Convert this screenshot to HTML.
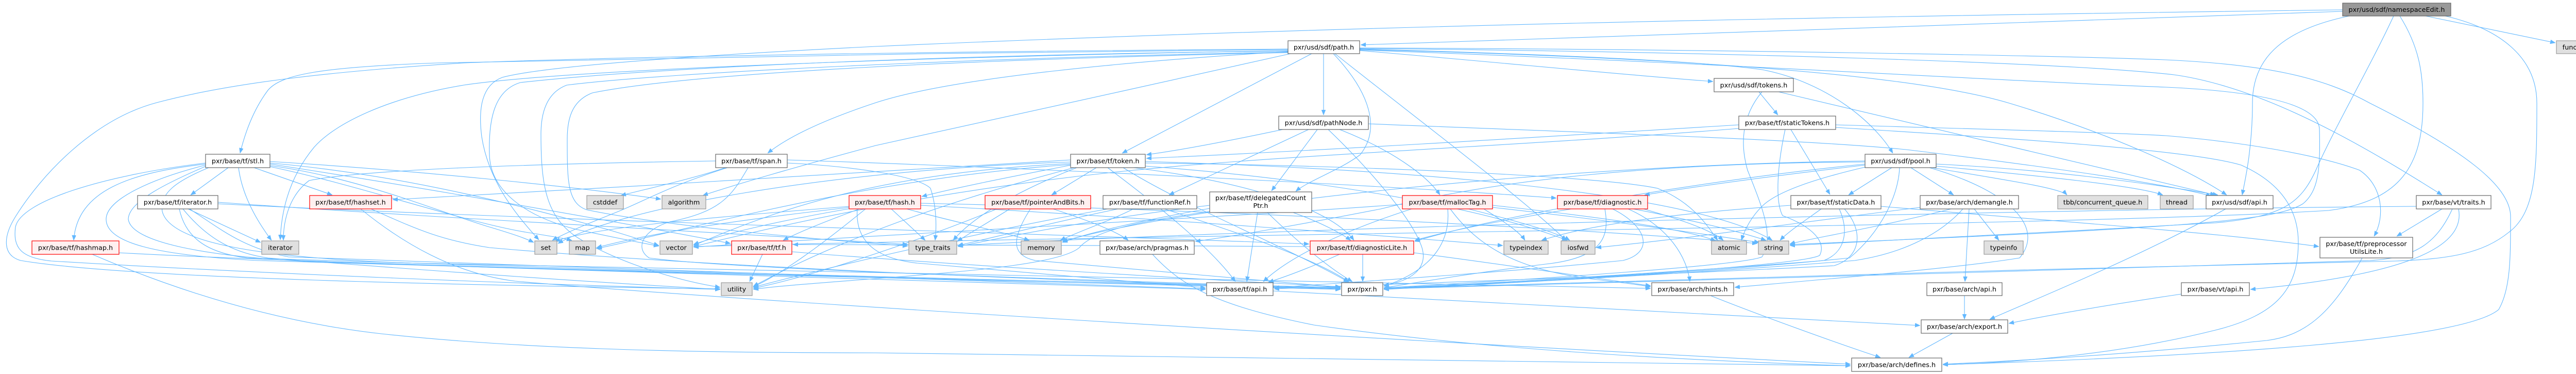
<!DOCTYPE html>
<html>
<head>
<meta charset="utf-8">
<style>
html,body{margin:0;padding:0;background:#fff;}
svg{display:block;}
.e path{fill:none;stroke:#63b8ff;stroke-width:1.1;}
text{font-family:"DejaVu Sans","Liberation Sans",sans-serif;font-size:12.8px;fill:#000;text-anchor:middle;}
.n{fill:#fff;stroke:#666;stroke-width:1.2;}
.g{fill:#e0e0e0;stroke:#999;stroke-width:1.2;}
.r{fill:#fff0f0;stroke:#ff0000;stroke-width:1.2;}
.root{fill:#999;stroke:#666;stroke-width:1.2;}
</style>
</head>
<body>
<svg width="5054" height="725" viewBox="0 0 5054 725" xmlns="http://www.w3.org/2000/svg">
<defs>
<marker id="a" viewBox="0 0 10 8" refX="10" refY="4" markerWidth="10" markerHeight="8" markerUnits="userSpaceOnUse" orient="auto"><path d="M0,0L10,4L0,8z" fill="#63b8ff" stroke="#63b8ff" stroke-width="0.5"/></marker>
</defs>
<rect width="5054" height="725" fill="#fff"/>
<g class="e">
<!-- namespaceEdit -->
<path d="M4547,22 C4000,40 3200,70 2641,87" marker-end="url(#a)"/>
<path d="M4547,19 C3500,33 2600,50 1700,90 C1300,110 1050,130 975,150 C935,165 928,210 935,265 C948,350 1000,415 1046,465" marker-end="url(#a)"/>
<path d="M4560,31 C4420,60 4372,120 4372,200 C4372,280 4360,340 4352,378" marker-end="url(#a)"/>
<path d="M4646,31 C4600,130 4530,250 4495,330 C4465,395 4430,420 4300,432 C4000,450 3600,468 3474,476" marker-end="url(#a)"/>
<path d="M4658,31 C4695,90 4703,140 4703,200 C4703,320 4660,390 4520,408 C4000,440 2200,455 1346,478" marker-end="url(#a)"/>
<path d="M4746,31 C4850,55 4924,110 4924,200 C4924,320 4924,410 4870,450 C4820,490 4760,502 4650,506 C4000,520 3100,545 2686,559" marker-end="url(#a)"/>
<path d="M4708,31 L4960,83" marker-end="url(#a)"/>
<!-- path.h -->
<path d="M2500,95 C1800,100 1200,110 900,122 C650,138 450,160 304,199 C180,232 80,340 30,420 C5,460 5,495 40,505 C250,540 900,553 1398,560" marker-end="url(#a)"/>
<path d="M2569,104 L2569,223" marker-end="url(#a)"/>
<path d="M2546,104 L2178,297" marker-end="url(#a)"/>
<path d="M2500,100 C2200,118 1850,150 1700,199 C1600,232 1530,265 1490,297" marker-end="url(#a)"/>
<path d="M2505,104 C2250,160 1900,240 1700,282 C1550,322 1420,360 1364,379" marker-end="url(#a)"/>
<path d="M2500,96 C2000,100 1200,112 850,122 C620,130 545,145 520,175 C490,215 475,260 466,297" marker-end="url(#a)"/>
<path d="M2500,98 C1800,110 1100,135 900,165 C750,190 650,240 610,285 C560,345 546,410 544,465" marker-end="url(#a)"/>
<path d="M2500,99 C1900,105 1300,128 1010,160 C960,175 948,230 950,300 C952,370 1020,420 1120,445 C1200,462 1250,472 1279,477" marker-end="url(#a)"/>
<path d="M2500,101 C1900,112 1300,140 1100,165 C1060,180 1050,220 1050,260 C1050,360 1060,420 1120,460 C1200,510 1320,545 1398,557" marker-end="url(#a)"/>
<path d="M2500,102 C1900,115 1350,140 1150,180 C1110,195 1101,230 1101,270 C1101,350 1101,395 1140,407 C1300,440 1600,465 1762,477" marker-end="url(#a)"/>
<path d="M2591,104 C2750,230 2950,380 3040,466" marker-end="url(#a)"/>
<path d="M2588,104 C2660,180 2680,250 2640,300 C2600,330 2540,350 2515,371" marker-end="url(#a)"/>
<path d="M2639,98 C2900,120 3150,145 3325,158" marker-end="url(#a)"/>
<path d="M2639,95 C3000,105 3300,118 3420,135 C3550,160 3640,240 3674,297" marker-end="url(#a)"/>
<path d="M2639,96 C3200,110 3700,140 3900,200 C4100,260 4250,330 4322,378" marker-end="url(#a)"/>
<path d="M2639,94 C3300,100 4000,120 4220,145 C4400,170 4600,290 4740,378" marker-end="url(#a)"/>
<path d="M2639,93 C3300,95 4000,108 4204,116 C4400,125 4510,150 4600,200 C4780,290 4873,360 4873,420 C4873,500 4873,560 4850,600 C4780,660 4300,690 3771,707" marker-end="url(#a)"/>
<path d="M2639,97 C3300,120 3900,158 4204,169 C4400,178 4500,205 4502,250 C4504,330 4500,370 4470,395 C4420,425 4300,440 3474,474" marker-end="url(#a)"/>
<!-- tokens.h -->
<path d="M3414,178 L3451,223" marker-end="url(#a)"/>
<path d="M3452,178 C3800,260 4100,330 4300,378" marker-end="url(#a)"/>
<path d="M3420,178 C3385,220 3375,270 3392,330 C3420,400 3445,460 3420,498 C3380,515 3000,540 2686,558" marker-end="url(#a)"/>
<!-- staticTokens -->
<path d="M3476,251 L3552,377" marker-end="url(#a)"/>
<path d="M3375,242 C3000,265 2600,290 2225,307" marker-end="url(#a)"/>
<path d="M3563,242 C3900,252 4100,257 4204,263 C4350,275 4500,300 4580,330 C4625,360 4630,420 4608,458" marker-end="url(#a)"/>
<path d="M3465,251 C3450,320 3445,390 3460,418 C3520,440 3545,470 3532,495 C3500,515 3000,545 2686,560" marker-end="url(#a)"/>
<path d="M3375,249 C3000,280 2500,300 2200,330 C1800,370 1500,440 1346,478" marker-end="url(#a)"/>
<path d="M3563,247 C3900,268 4250,290 4350,320 C4440,360 4461,420 4461,470 C4461,560 4420,610 4300,640 C4100,690 3900,703 3771,707" marker-end="url(#a)"/>
<!-- pathNode -->
<path d="M2490,251 C2400,270 2300,290 2225,300" marker-end="url(#a)"/>
<path d="M2540,251 L2269,378" marker-end="url(#a)"/>
<path d="M2557,251 L2468,370" marker-end="url(#a)"/>
<path d="M2578,251 C2650,320 2740,420 2760,480 C2772,520 2740,545 2686,553" marker-end="url(#a)"/>
<path d="M2600,251 C2700,290 2770,340 2795,378" marker-end="url(#a)"/>
<path d="M2656,240 C3100,258 3500,270 3700,290 C3950,320 4200,355 4292,380" marker-end="url(#a)"/>
<!-- stl.h -->
<path d="M399,318 C250,335 150,370 143,466" marker-end="url(#a)"/>
<path d="M443,325 L370,378" marker-end="url(#a)"/>
<path d="M463,325 C470,380 500,430 527,466" marker-end="url(#a)"/>
<path d="M493,325 L645,378" marker-end="url(#a)"/>
<path d="M524,313 C800,330 1100,360 1283,386" marker-end="url(#a)"/>
<path d="M524,318 C800,360 1200,430 1418,472" marker-end="url(#a)"/>
<path d="M524,321 C700,345 850,410 950,440 C1000,455 1020,462 1036,470" marker-end="url(#a)"/>
<path d="M524,323 C700,360 900,430 1020,450 C1070,458 1095,462 1110,466" marker-end="url(#a)"/>
<path d="M524,316 C800,340 1050,410 1180,445 C1230,460 1260,470 1279,476" marker-end="url(#a)"/>
<path d="M399,316 C200,340 40,390 30,440 C25,480 40,500 100,506 C500,530 1000,550 1398,561" marker-end="url(#a)"/>
<path d="M399,320 C300,345 206,385 206,425 C206,470 300,495 500,505 C1200,528 2200,550 2602,561" marker-end="url(#a)"/>
<path d="M400,322 C330,352 249,390 249,425 C255,470 400,497 600,507 C1200,527 2000,550 2340,561" marker-end="url(#a)"/>
<path d="M405,325 C340,352 310,375 315,410 C330,470 500,500 800,510 C1800,530 2800,548 3204,559" marker-end="url(#a)"/>
<!-- iterator.h -->
<path d="M365,405 L506,470" marker-end="url(#a)"/>
<path d="M423,392 C800,420 1400,450 1762,474" marker-end="url(#a)"/>
<path d="M423,395 C1000,425 2000,452 2541,473" marker-end="url(#a)"/>
<path d="M348,405 C360,460 400,490 480,500 C1200,525 2200,550 2602,560" marker-end="url(#a)"/>
<path d="M355,405 C400,460 450,490 520,500 C900,530 1200,550 1398,561" marker-end="url(#a)"/>
<path d="M368,405 C430,445 470,480 560,498 C1300,525 2000,548 2340,560" marker-end="url(#a)"/>
<!-- hashset / hashmap -->
<path d="M720,405 C800,440 850,465 950,480 C1400,520 2200,550 2602,559" marker-end="url(#a)"/>
<path d="M700,405 C780,470 880,530 1000,545 C1400,580 2600,655 3592,706" marker-end="url(#a)"/>
<path d="M231,490 C600,510 1500,535 2602,557" marker-end="url(#a)"/>
<path d="M179,493 C300,545 500,620 740,647 C1000,675 1300,684 1700,684 C2500,690 3200,703 3592,709" marker-end="url(#a)"/>
<!-- span.h -->
<path d="M1389,312 C1000,318 700,330 600,350 C560,380 550,430 550,466" marker-end="url(#a)"/>
<path d="M1408,325 C1350,345 1260,365 1205,379" marker-end="url(#a)"/>
<path d="M1412,325 C1300,360 1250,390 1200,410 C1150,430 1100,450 1072,466" marker-end="url(#a)"/>
<path d="M1452,325 C1420,380 1400,410 1300,430 C1250,445 1230,480 1260,500 C1400,520 2000,540 2602,558" marker-end="url(#a)"/>
<path d="M1528,310 C2000,325 2700,360 3021,384" marker-end="url(#a)"/>
<path d="M1528,316 C1650,322 1780,340 1806,365 C1818,400 1818,440 1815,466" marker-end="url(#a)"/>
<!-- hash.h -->
<path d="M1650,400 C1400,420 1150,440 1077,468" marker-end="url(#a)"/>
<path d="M1650,402 C1400,430 1250,455 1158,480" marker-end="url(#a)"/>
<path d="M1652,404 C1500,430 1400,455 1346,474" marker-end="url(#a)"/>
<path d="M1668,405 C1600,430 1550,450 1520,466" marker-end="url(#a)"/>
<path d="M1680,405 C1600,470 1520,530 1462,556" marker-end="url(#a)"/>
<path d="M1730,405 L1796,466" marker-end="url(#a)"/>
<path d="M1760,405 C1850,430 1950,450 1998,466" marker-end="url(#a)"/>
<path d="M1664,405 C1660,460 1690,500 1780,510 C2000,530 2200,545 2340,558" marker-end="url(#a)"/>
<path d="M1787,398 C2200,420 2700,458 2917,476" marker-end="url(#a)"/>
<path d="M1787,394 C2300,405 3000,438 3411,472" marker-end="url(#a)"/>
<!-- pointerAndBits -->
<path d="M1960,405 C1920,430 1885,450 1858,468" marker-end="url(#a)"/>
<path d="M2044,405 C2120,430 2170,450 2190,466" marker-end="url(#a)"/>
<path d="M2000,405 C1965,460 1960,495 2010,505 C2300,530 2500,548 2602,557" marker-end="url(#a)"/>
<path d="M1935,405 C1800,460 1600,530 1462,559" marker-end="url(#a)"/>
<!-- functionRef -->
<path d="M2170,405 C2050,430 1950,455 1859,476" marker-end="url(#a)"/>
<path d="M2200,405 C2150,430 2090,450 2058,466" marker-end="url(#a)"/>
<path d="M2260,405 C2400,450 2550,500 2618,546" marker-end="url(#a)"/>
<path d="M2150,405 C1900,450 1600,520 1462,557" marker-end="url(#a)"/>
<!-- delegatedCountPtr -->
<path d="M2348,398 C2100,428 1950,460 1859,478" marker-end="url(#a)"/>
<path d="M2348,404 C2200,430 2100,455 2062,470" marker-end="url(#a)"/>
<path d="M2348,410 C2200,430 2120,450 2095,480 C2060,510 1900,525 1700,540 C1600,548 1500,555 1462,561" marker-end="url(#a)"/>
<path d="M2441,412 L2420,546" marker-end="url(#a)"/>
<path d="M2460,412 C2520,470 2580,520 2625,546" marker-end="url(#a)"/>
<path d="M2510,412 C2560,430 2600,450 2622,466" marker-end="url(#a)"/>
<!-- token.h -->
<path d="M2128,325 L2041,378" marker-end="url(#a)"/>
<path d="M2079,320 C1950,345 1850,365 1789,381" marker-end="url(#a)"/>
<path d="M2078,310 C1800,325 1200,365 762,387" marker-end="url(#a)"/>
<path d="M2090,325 C1950,380 1880,430 1850,466" marker-end="url(#a)"/>
<path d="M2200,325 C2400,350 2580,400 2628,466" marker-end="url(#a)"/>
<path d="M2223,316 C2600,320 3100,340 3217,365 C3280,390 3310,430 3334,466" marker-end="url(#a)"/>
<path d="M2223,322 C2600,350 2900,410 3042,466" marker-end="url(#a)"/>
<path d="M2223,313 C2800,330 3300,380 3440,466" marker-end="url(#a)"/>
<path d="M2078,317 C1700,335 1500,410 1346,476" marker-end="url(#a)"/>
<path d="M2078,314 C1600,330 1200,405 1083,472" marker-end="url(#a)"/>
<path d="M2078,319 C1700,345 1400,430 1158,482" marker-end="url(#a)"/>
<path d="M2085,325 C1800,400 1600,480 1462,555" marker-end="url(#a)"/>
<path d="M2180,325 C2300,400 2500,480 2618,547" marker-end="url(#a)"/>
<path d="M2150,325 C2250,400 2350,480 2398,546" marker-end="url(#a)"/>
<!-- mallocTag -->
<path d="M2740,405 C2600,450 2500,500 2452,546" marker-end="url(#a)"/>
<path d="M2810,405 C2815,460 2790,520 2686,555" marker-end="url(#a)"/>
<path d="M2815,405 C2870,480 2950,525 3100,542 C3150,548 3180,552 3204,556" marker-end="url(#a)"/>
<path d="M2850,405 C2950,430 3020,450 3047,466" marker-end="url(#a)"/>
<path d="M2897,398 C3100,420 3280,445 3330,467" marker-end="url(#a)"/>
<path d="M2897,402 C3150,430 3350,460 3415,470" marker-end="url(#a)"/>
<path d="M2722,396 C2400,420 1800,450 1346,479" marker-end="url(#a)"/>
<path d="M2880,405 C2920,430 2950,450 2960,466" marker-end="url(#a)"/>
<!-- diagnostic -->
<path d="M3050,405 C2900,430 2800,450 2746,466" marker-end="url(#a)"/>
<path d="M3115,405 C3125,460 3110,500 3000,512 C2850,530 2750,548 2686,558" marker-end="url(#a)"/>
<path d="M3130,405 C3200,440 3210,490 3150,505 C2900,530 2600,548 2473,558" marker-end="url(#a)"/>
<path d="M3160,405 C3240,440 3275,500 3280,546" marker-end="url(#a)"/>
<path d="M3170,405 C3300,430 3380,450 3428,466" marker-end="url(#a)"/>
<path d="M3190,405 C3260,425 3320,445 3345,466" marker-end="url(#a)"/>
<!-- diagnosticLite -->
<path d="M2645,493 L2645,546" marker-end="url(#a)"/>
<path d="M2600,493 C2540,520 2500,535 2462,547" marker-end="url(#a)"/>
<path d="M2744,490 C2900,510 3100,540 3204,554" marker-end="url(#a)"/>
<path d="M2543,478 C2200,476 1800,474 1539,474" marker-end="url(#a)"/>
<!-- pragmas, tf.h -->
<path d="M2237,493 C2290,550 2350,590 2550,630 C2900,680 3300,700 3592,709" marker-end="url(#a)"/>
<path d="M1480,493 L1455,546" marker-end="url(#a)"/>
<path d="M1537,488 C1800,510 2300,540 2602,556" marker-end="url(#a)"/>
<!-- lower -->
<path d="M3320,573 C3400,605 3550,660 3650,693" marker-end="url(#a)"/>
<path d="M2471,564 C3000,590 3500,615 3727,631" marker-end="url(#a)"/>
<path d="M3813,573 L3813,619" marker-end="url(#a)"/>
<path d="M3790,646 L3705,693" marker-end="url(#a)"/>
<path d="M4320,405 C4150,500 3950,580 3862,619" marker-end="url(#a)"/>
<path d="M4234,570 C4100,590 3980,610 3899,627" marker-end="url(#a)"/>
<!-- demangle -->
<path d="M3822,405 L3814,546" marker-end="url(#a)"/>
<path d="M3832,405 L3880,466" marker-end="url(#a)"/>
<path d="M3787,405 C3650,440 3500,465 3474,473" marker-end="url(#a)"/>
<path d="M3810,405 C3770,450 3700,490 3600,505 C3300,530 2900,550 2686,561" marker-end="url(#a)"/>
<path d="M3727,402 C3500,430 3300,460 3098,480" marker-end="url(#a)"/>
<!-- staticData -->
<path d="M3535,405 C3500,430 3470,450 3455,466" marker-end="url(#a)"/>
<path d="M3570,405 C3590,450 3580,490 3540,505 C3300,525 2900,548 2686,560" marker-end="url(#a)"/>
<path d="M3580,405 C3620,450 3610,500 3560,515 C3200,535 2700,550 2473,560" marker-end="url(#a)"/>
<path d="M3651,400 C4000,430 4300,450 4501,478" marker-end="url(#a)"/>
<path d="M3476,398 C3300,410 3100,430 2992,466" marker-end="url(#a)"/>
<!-- pool -->
<path d="M3672,325 L3588,378" marker-end="url(#a)"/>
<path d="M3709,325 L3792,378" marker-end="url(#a)"/>
<path d="M3750,325 C3900,350 4000,365 4012,378" marker-end="url(#a)"/>
<path d="M3758,322 C3950,340 4150,360 4198,378" marker-end="url(#a)"/>
<path d="M3758,318 C4000,330 4200,360 4305,378" marker-end="url(#a)"/>
<path d="M3687,325 C3685,380 3650,450 3590,500 C3300,530 2900,550 2686,558" marker-end="url(#a)"/>
<path d="M3745,325 C3900,370 3970,440 3920,500 C3800,520 3500,545 3367,557" marker-end="url(#a)"/>
<path d="M3620,324 C3530,345 3450,370 3420,400 C3395,425 3385,450 3380,466" marker-end="url(#a)"/>
<path d="M3620,320 C3450,340 3300,360 3192,378" marker-end="url(#a)"/>
<path d="M3620,318 C3300,350 2900,420 2746,468" marker-end="url(#a)"/>
<path d="M3620,312 C3000,320 2300,400 2062,468" marker-end="url(#a)"/>
<path d="M3620,314 C3200,316 2900,350 2680,405 C2500,440 2380,460 2320,468" marker-end="url(#a)"/>
<!-- vt/traits -->
<path d="M4740,405 L4652,458" marker-end="url(#a)"/>
<path d="M4772,405 C4785,470 4700,530 4368,561" marker-end="url(#a)"/>
<path d="M4760,405 C4730,470 4690,500 4600,505 C4000,525 3000,550 2686,560" marker-end="url(#a)"/>
<path d="M4690,400 C4000,405 2500,440 1859,476" marker-end="url(#a)"/>
<!-- preprocessorUtilsLite -->
<path d="M4585,500 C4530,600 4480,650 4400,660 C4100,690 3900,700 3771,706" marker-end="url(#a)"/>
</g>

<!-- nodes -->
<g>
<rect class="root" x="4547" y="6" width="210" height="25"/><text x="4652" y="23">pxr/usd/sdf/namespaceEdit.h</text>
<rect class="n" x="2500" y="79" width="139" height="25"/><text x="2569.5" y="96">pxr/usd/sdf/path.h</text>
<rect class="g" x="4962" y="79" width="87" height="25"/><text x="5005.5" y="96">functional</text>
<rect class="n" x="3327" y="152" width="154" height="26"/><text x="3404" y="169.5">pxr/usd/sdf/tokens.h</text>
<rect class="n" x="2482" y="225" width="174" height="26"/><text x="2569" y="242.5">pxr/usd/sdf/pathNode.h</text>
<rect class="n" x="3375" y="225" width="188" height="26"/><text x="3469" y="242.5">pxr/base/tf/staticTokens.h</text>

<rect class="n" x="399" y="299" width="125" height="26"/><text x="461.5" y="316.5">pxr/base/tf/stl.h</text>
<rect class="n" x="1389" y="299" width="139" height="26"/><text x="1458.5" y="316.5">pxr/base/tf/span.h</text>
<rect class="n" x="2078" y="299" width="145" height="26"/><text x="2150.5" y="316.5">pxr/base/tf/token.h</text>
<rect class="n" x="3620" y="299" width="138" height="26"/><text x="3689" y="316.5">pxr/usd/sdf/pool.h</text>

<rect class="n" x="267" y="379" width="156" height="26"/><text x="345" y="396.5">pxr/base/tf/iterator.h</text>
<rect class="r" x="601" y="379" width="159" height="26"/><text x="680.5" y="396.5">pxr/base/tf/hashset.h</text>
<rect class="g" x="1139" y="379" width="71" height="26"/><text x="1174.5" y="396.5">cstddef</text>
<rect class="g" x="1285" y="379" width="85" height="26"/><text x="1327.5" y="396.5">algorithm</text>
<rect class="r" x="1648" y="379" width="139" height="26"/><text x="1717.5" y="396.5">pxr/base/tf/hash.h</text>
<rect class="r" x="1912" y="379" width="205" height="26"/><text x="2014.5" y="396.5">pxr/base/tf/pointerAndBits.h</text>
<rect class="n" x="2141" y="379" width="182" height="26"/><text x="2232" y="396.5">pxr/base/tf/functionRef.h</text>
<rect class="n" x="2348" y="372" width="198" height="40"/><text x="2447" y="388">pxr/base/tf/delegatedCount</text><text x="2447" y="403">Ptr.h</text>
<rect class="r" x="2722" y="379" width="175" height="26"/><text x="2809.5" y="396.5">pxr/base/tf/mallocTag.h</text>
<rect class="r" x="3023" y="379" width="175" height="26"/><text x="3110.5" y="396.5">pxr/base/tf/diagnostic.h</text>
<rect class="n" x="3476" y="379" width="175" height="26"/><text x="3563.5" y="396.5">pxr/base/tf/staticData.h</text>
<rect class="n" x="3727" y="379" width="191" height="26"/><text x="3822.5" y="396.5">pxr/base/arch/demangle.h</text>
<rect class="g" x="3994" y="379" width="175" height="26"/><text x="4081.5" y="396.5">tbb/concurrent_queue.h</text>
<rect class="g" x="4193" y="379" width="64" height="26"/><text x="4225" y="396.5">thread</text>
<rect class="n" x="4282" y="379" width="130" height="26"/><text x="4347" y="396.5">pxr/usd/sdf/api.h</text>
<rect class="n" x="4690" y="379" width="145" height="26"/><text x="4762.5" y="396.5">pxr/base/vt/traits.h</text>

<rect class="r" x="62" y="467" width="169" height="26"/><text x="146.5" y="484.5">pxr/base/tf/hashmap.h</text>
<rect class="g" x="508" y="467" width="72" height="26"/><text x="544" y="484.5">iterator</text>
<rect class="g" x="1038" y="467" width="43" height="26"/><text x="1059.5" y="484.5">set</text>
<rect class="g" x="1105" y="467" width="51" height="26"/><text x="1130.5" y="484.5">map</text>
<rect class="g" x="1281" y="467" width="63" height="26"/><text x="1312.5" y="484.5">vector</text>
<rect class="r" x="1420" y="467" width="117" height="26"/><text x="1478.5" y="484.5">pxr/base/tf/tf.h</text>
<rect class="g" x="1764" y="467" width="93" height="26"/><text x="1810.5" y="484.5">type_traits</text>
<rect class="g" x="1982" y="467" width="78" height="26"/><text x="2021" y="484.5">memory</text>
<rect class="n" x="2135" y="467" width="183" height="26"/><text x="2226.5" y="484.5">pxr/base/arch/pragmas.h</text>
<rect class="r" x="2543" y="467" width="201" height="26"/><text x="2643.5" y="484.5">pxr/base/tf/diagnosticLite.h</text>
<rect class="g" x="2919" y="467" width="86" height="26"/><text x="2962" y="484.5">typeindex</text>
<rect class="g" x="3030" y="467" width="66" height="26"/><text x="3063" y="484.5">iosfwd</text>
<rect class="g" x="3322" y="467" width="68" height="26"/><text x="3356" y="484.5">atomic</text>
<rect class="g" x="3413" y="467" width="59" height="26"/><text x="3442.5" y="484.5">string</text>
<rect class="g" x="3851" y="467" width="76" height="26"/><text x="3889" y="484.5">typeinfo</text>
<rect class="n" x="4503" y="460" width="180" height="40"/><text x="4593" y="477">pxr/base/tf/preprocessor</text><text x="4593" y="492">UtilsLite.h</text>

<rect class="g" x="1400" y="548" width="60" height="25"/><text x="1430" y="565">utility</text>
<rect class="n" x="2342" y="548" width="129" height="25"/><text x="2406.5" y="565">pxr/base/tf/api.h</text>
<rect class="n" x="2604" y="548" width="80" height="25"/><text x="2644" y="565">pxr/pxr.h</text>
<rect class="n" x="3206" y="548" width="159" height="25"/><text x="3285.5" y="565">pxr/base/arch/hints.h</text>
<rect class="n" x="3740" y="548" width="146" height="25"/><text x="3813" y="565">pxr/base/arch/api.h</text>
<rect class="n" x="4234" y="548" width="132" height="25"/><text x="4300" y="565">pxr/base/vt/api.h</text>

<rect class="n" x="3729" y="620" width="168" height="26"/><text x="3813" y="637.5">pxr/base/arch/export.h</text>
<rect class="n" x="3594" y="694" width="175" height="26"/><text x="3681.5" y="711.5">pxr/base/arch/defines.h</text>
</g>
</svg>
</body>
</html>
